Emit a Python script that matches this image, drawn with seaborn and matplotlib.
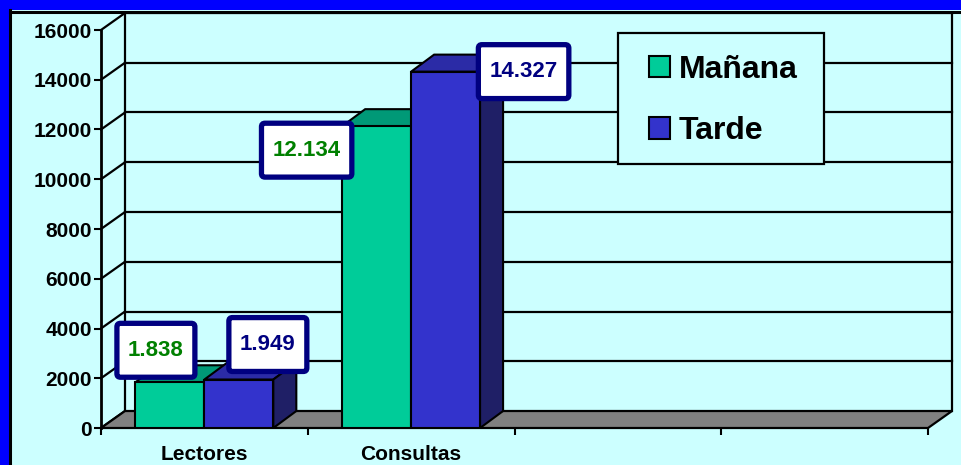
import matplotlib
matplotlib.use("Agg")
import matplotlib.pyplot as plt
import numpy as np
import pandas as pd
import seaborn as sns
from matplotlib.patches import Polygon, Rectangle, Patch, BoxStyle
from matplotlib.lines import Line2D
from matplotlib.transforms import Affine2D, IdentityTransform

# ---------------- data ----------------
categories = ["Lectores", "Consultas"]
series = ["Mañana", "Tarde"]
manana = [1838, 12134]
tarde = [1949, 14327]
y_ticks = [0, 2000, 4000, 6000, 8000, 10000, 12000, 14000, 16000]
n_slots = 4  # category slots on the x axis (last two empty)

# ---------------- style ----------------
FONT = ["Liberation Sans", "DejaVu Sans"]
plt.rcParams["font.family"] = FONT
plt.rcParams["font.weight"] = "bold"

BG = "#CCFFFF"
front_cols = ["#00CC99", "#3333CC"]
top_cols = ["#009977", "#2B2BA6"]
side_cols = ["#006B55", "#1F1F66"]
label_cols = ["#008000", "#000080"]
WALL = np.array([24.0, 17.0])   # depth offset of back wall (pixels)
BAR = np.array([23.0, 17.0])    # depth offset of bars (pixels)
label_offsets = [[(-14, 32), (-70, -24)], [(29, 35), (78, 0)]]


def label_box(x0, y0, width, height, mutation_size):
    px, py = 0.5 * mutation_size, 0.74 * mutation_size
    return BoxStyle("round", pad=0, rounding_size=0.16)(
        x0 - px, y0 - py, width + 2 * px, height + 2 * py, mutation_size)


W, H = 962, 465
fig = plt.figure(figsize=(W / 100, H / 100), dpi=100, facecolor=BG)
ax = fig.add_axes([101 / W, 37 / H, 827 / W, 398 / H])
ax.set_facecolor("none")

df = pd.DataFrame({
    "Categoría": categories * 2,
    "Turno": [series[0]] * len(categories) + [series[1]] * len(categories),
    "Valor": manana + tarde,
})
sns.barplot(data=df, x="Categoría", y="Valor", hue="Turno", order=categories,
            hue_order=series, palette=front_cols, saturation=1, width=0.667,
            gap=0, edgecolor="black", linewidth=1.5, errorbar=None,
            legend=False, ax=ax, zorder=5)

ax.set_xlim(-0.5, n_slots - 0.5)
ax.set_ylim(y_ticks[0], y_ticks[-1])
ax.set_autoscale_on(False)
ax.set_xlabel("")
ax.set_ylabel("")

# ticks
ax.set_yticks(y_ticks)
ax.set_yticklabels([str(v) for v in y_ticks], fontsize=15, fontweight="bold")
ax.tick_params(axis="y", length=5, width=1.5, pad=1.5, color="black")
ax.set_xticks(np.arange(-0.5, n_slots, 1.0))
ax.set_xticklabels([""] * (n_slots + 1))
ax.set_xticks(np.arange(len(categories)), minor=True)
ax.set_xticklabels(categories, minor=True, fontsize=15, fontweight="bold")
ax.tick_params(axis="x", which="major", length=5, width=1.5, color="black")
ax.tick_params(axis="x", which="minor", length=0, pad=12)

for s in ["top", "right", "bottom"]:
    ax.spines[s].set_visible(False)
ax.spines["left"].set_linewidth(2)
ax.spines["left"].set_color("black")
ax.spines["left"].set_zorder(3)


def disp(x, y):
    return np.array(ax.transData.transform((x, y)))


ident = IdentityTransform()
back = ax.transData + Affine2D().translate(*WALL)
x_lo, x_hi = -0.5, n_slots - 0.5

# back wall gridlines + edges
for v in y_ticks[1:]:
    ax.add_line(Line2D([x_lo, x_hi], [v, v], transform=back, color="black",
                       lw=1.6, clip_on=False, zorder=1))
for xb in (x_lo, x_hi):
    ax.add_line(Line2D([xb, xb], [y_ticks[0], y_ticks[-1]], transform=back,
                       color="black", lw=1.6, clip_on=False, zorder=1))
# side wall diagonals
for v in y_ticks:
    p = disp(x_lo, v)
    q = p + WALL
    ax.add_line(Line2D([p[0], q[0]], [p[1], q[1]], transform=ident,
                       color="black", lw=1.6, clip_on=False, zorder=1.5))

# floor
f0, f1 = disp(x_lo, 0), disp(x_hi, 0)
ax.add_patch(Polygon([f0, f1, f1 + WALL, f0 + WALL], closed=True,
                     transform=ident, fc="#808080", ec="black", lw=1.6,
                     zorder=2, clip_on=False))

# 3D tops / sides and value labels
for i, cont in enumerate(ax.containers):
    for j, rect in enumerate(cont):
        x0, w, h = rect.get_x(), rect.get_width(), rect.get_height()
        rect.set_zorder(5)
        ftl, ftr, fbr = disp(x0, h), disp(x0 + w, h), disp(x0 + w, 0)
        z = 4.5 if i == 0 else 5.5
        ax.add_patch(Polygon([ftl, ftr, ftr + BAR, ftl + BAR], closed=True,
                             transform=ident, fc=top_cols[i], ec="black",
                             lw=1.5, zorder=z, clip_on=False))
        ax.add_patch(Polygon([ftr, fbr, fbr + BAR, ftr + BAR], closed=True,
                             transform=ident, fc=side_cols[i], ec="black",
                             lw=1.5, zorder=z, clip_on=False))
        txt = f"{int(h):,}".replace(",", ".")
        ax.annotate(txt, xy=(x0 + w / 2, h), xytext=label_offsets[i][j],
                    textcoords="offset pixels", ha="center", va="center",
                    fontsize=16, fontweight="bold", color=label_cols[i],
                    bbox=dict(boxstyle=label_box, fc="white", ec="#000080",
                              lw=3.8),
                    zorder=10, annotation_clip=False)

# legend with its own frame
fig.add_artist(Rectangle((618 / W, 1 - 164 / H), 206 / W, 131 / H,
                         transform=fig.transFigure, fc=BG, ec="black",
                         lw=1.6, zorder=3))
handles = [Patch(fc=c, ec="black", lw=1.5) for c in front_cols]
fig.legend(handles, series, loc="center",
           bbox_to_anchor=(723 / W, 1 - 100.5 / H), frameon=False,
           prop={"family": FONT, "weight": "bold", "size": 23},
           handlelength=0.66, handleheight=0.66, handletextpad=0.28,
           labelspacing=0.98, borderpad=0, borderaxespad=0)

# outer frame (blue band + black line)
fig.add_artist(Rectangle((0, 0), 9 / W, 1, transform=fig.transFigure,
                         fc="#0000FF", ec="none", zorder=6))
fig.add_artist(Rectangle((0, 1 - 10 / H), 1, 10 / H, transform=fig.transFigure,
                         fc="#0000FF", ec="none", zorder=6))
fig.add_artist(Line2D([9.8 / W, 9.8 / W], [0, 1 - 10 / H],
                      transform=fig.transFigure, color="black", lw=2.2, zorder=6))
fig.add_artist(Line2D([9.8 / W, 1], [1 - 11.6 / H, 1 - 11.6 / H],
                      transform=fig.transFigure, color="black", lw=2.2, zorder=6))

fig.savefig("out.png", dpi=100, facecolor=BG)
